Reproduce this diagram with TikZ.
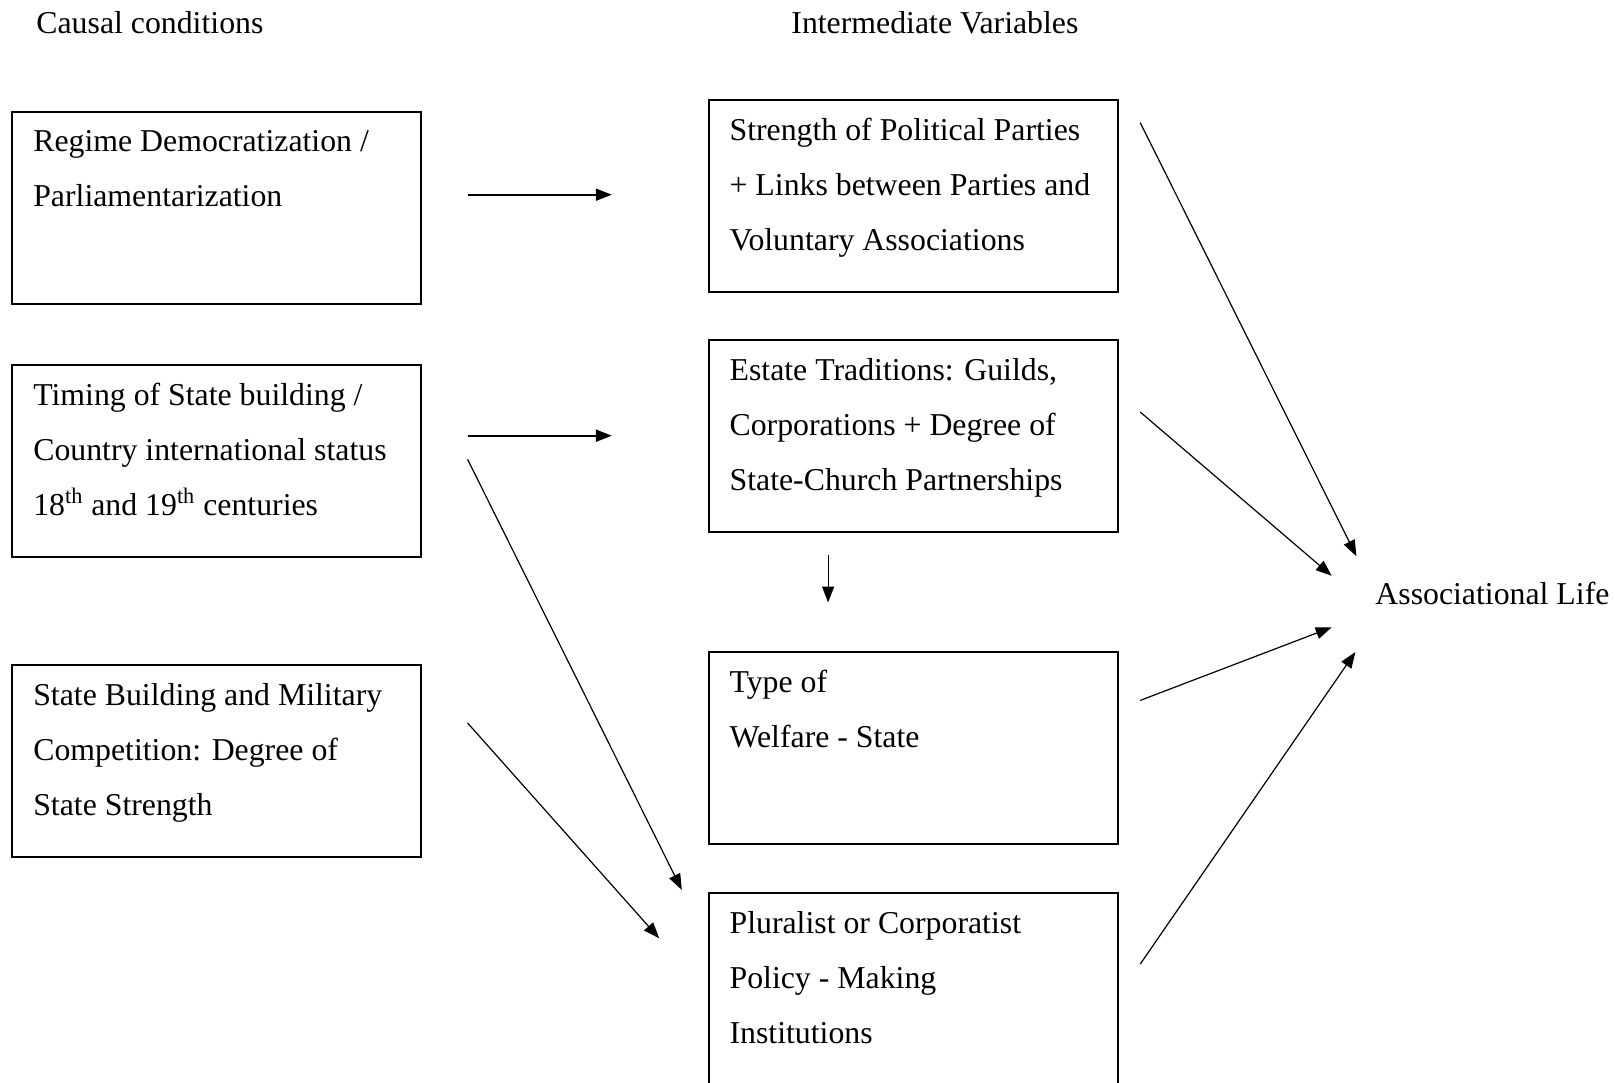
\documentclass[tikz,border=0pt]{standalone}
\usepackage{fontspec}
\setmainfont{Liberation Serif}
\usetikzlibrary{arrows.meta,positioning}

\tikzset{
  box/.style={draw, line width=1pt, minimum width=204.5pt, minimum height=96pt, inner sep=0pt, anchor=north west},
  txt/.style={align=left, inner sep=0pt, font=\fontsize{15.9}{27.6}\selectfont},
  arr/.style={line width=0.6pt, -{Triangle[length=8pt,width=6pt]}},
}

\begin{document}
\begin{tikzpicture}[x=0.5pt,y=-0.5pt]
\useasboundingbox (0,0) rectangle (1615,1082);

% headings
\node (cause) [txt, anchor=west] at (36,23) {Causal conditions};
\node (inter) [txt, anchor=west] at (791,23) {Intermediate Variables};
\node (life) [txt, anchor=west] at (1375,593) {Associational Life};

% causal conditions
\node (regime) [box] at (11.3,111.2) {};
\node (timing) [box] at (11.3,363.6) {};
\node (military) [box] at (11.3,664.3) {};

\node (regimeT) [txt, below right=9.4pt and 10.8pt of regime.north west] {Regime Democratization /\\Parliamentarization};
\node (timingT) [txt, below right=9.4pt and 10.8pt of timing.north west] {Timing of State building /\\Country international status\\18\textsuperscript{th} and 19\textsuperscript{th} centuries};
\node (militaryT) [txt, below right=9.4pt and 10.8pt of military.north west] {State Building and Military\\Competition: Degree of\\State Strength};

% intermediate variables
\node (parties) [box] at (707.6,98.9) {};
\node (estate) [box] at (707.6,338.9) {};
\node (welfare) [box] at (707.6,651) {};
\node (policy) [box] at (707.6,892) {};

\node (partiesT) [txt, below right=9.4pt and 10.8pt of parties.north west] {Strength of Political Parties\\+ Links between Parties and\\Voluntary Associations};
\node (estateT) [txt, below right=9.4pt and 10.8pt of estate.north west] {Estate Traditions: Guilds,\\Corporations + Degree of\\State-Church Partnerships};
\node (welfareT) [txt, below right=9.4pt and 10.8pt of welfare.north west] {Type of\\Welfare - State};
\node (policyT) [txt, below right=9.4pt and 10.8pt of policy.north west] {Pluralist or Corporatist\\Policy - Making\\Institutions};

% arrow ends
\coordinate (s1) at (467.6,194.7); \coordinate (t1) at (611.8,194.7);
\coordinate (s2) at (467.6,435.7); \coordinate (t2) at (611.8,435.7);
\coordinate (s3) at (467.6,459.4); \coordinate (t3) at (681.8,889.9);
\coordinate (s4) at (467.6,723);   \coordinate (t4) at (659.2,938.3);
\coordinate (s5) at (828.1,555.2); \coordinate (t5) at (828.1,602.5);
\coordinate (s6) at (1140.2,122.6); \coordinate (t6) at (1356.4,556.2);
\coordinate (s7) at (1140.2,412);  \coordinate (t7) at (1331.7,575.8);
\coordinate (s8) at (1140.2,700.4); \coordinate (t8) at (1331.7,627.3);
\coordinate (s9) at (1140.2,964.1); \coordinate (t9) at (1355.4,652);

\draw[arr, line width=1pt] (s1) -- (t1);
\draw[arr, line width=1pt] (s2) -- (t2);
\foreach \i in {3,4,5,6,7,8,9} {
\draw[arr] (s\i) -- (t\i);
}
\end{tikzpicture}
\end{document}
